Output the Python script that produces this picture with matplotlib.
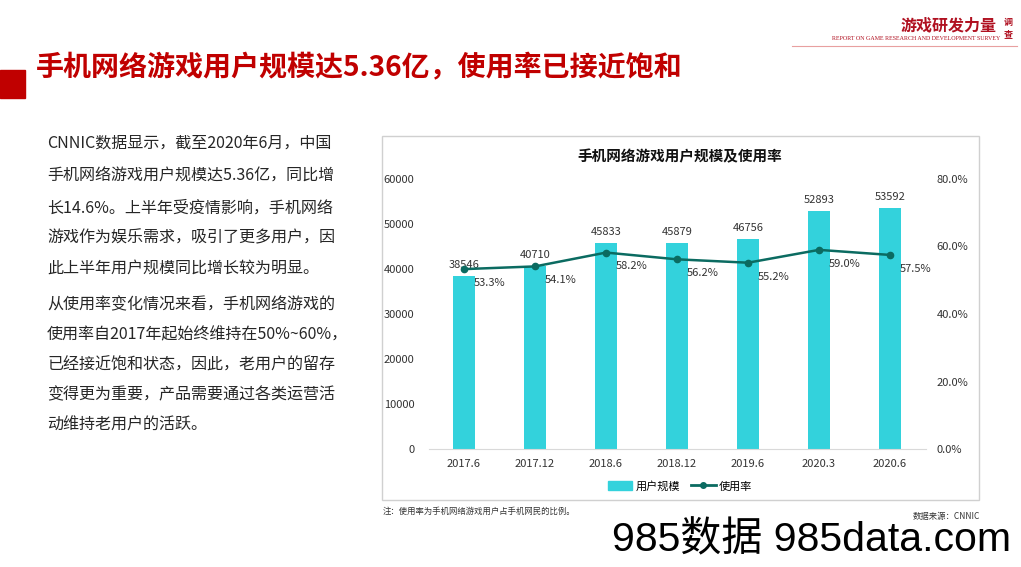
import matplotlib
matplotlib.use("Agg")
import matplotlib.pyplot as plt
from matplotlib.patches import Rectangle
from matplotlib.lines import Line2D
from matplotlib.ticker import FuncFormatter

plt.rcParams['font.family'] = ['Noto Sans CJK SC', 'DejaVu Sans']

categories = ["2017.6", "2017.12", "2018.6", "2018.12", "2019.6", "2020.3", "2020.6"]
users = [38546, 40710, 45833, 45879, 46756, 52893, 53592]
rate = [53.3, 54.1, 58.2, 56.2, 55.2, 59.0, 57.5]

page_title = "手机网络游戏用户规模达5.36亿，使用率已接近饱和"
chart_title = "手机网络游戏用户规模及使用率"
para1 = ["CNNIC数据显示，截至2020年6月，中国",
         "手机网络游戏用户规模达5.36亿，同比增",
         "长14.6%。上半年受疫情影响，手机网络",
         "游戏作为娱乐需求，吸引了更多用户，因",
         "此上半年用户规模同比增长较为明显。"]
para2 = ["从使用率变化情况来看，手机网络游戏的",
         "使用率自2017年起始终维持在50%~60%，",
         "已经接近饱和状态，因此，老用户的留存",
         "变得更为重要，产品需要通过各类运营活",
         "动维持老用户的活跃。"]
note = "注：使用率为手机网络游戏用户占手机网民的比例。"
source = "数据来源：CNNIC"

BAR = "#33D2DC"
LINE = "#0B6B61"
RED = "#C00000"

W, H = 1021, 567
fig = plt.figure(figsize=(W / 100, H / 100), dpi=100)

def fx(px):
    return px / W

def fy(py):
    return 1 - py / H

# header
fig.patches.append(Rectangle((0, fy(98)), fx(25), (98 - 70) / H, transform=fig.transFigure,
                             color=RED, zorder=1))
fig.text(fx(36), fy(68), page_title, color=RED, fontsize=20.2, fontweight='bold',
         va='center', ha='left')
fig.text(fx(997), fy(25), "游戏研发力量", color="#B01020", fontsize=11.5, fontweight='bold',
         style='italic', va='center', ha='right')
fig.text(fx(1008), fy(22), "调", color="#B01020", fontsize=6.5, fontweight='bold',
         va='center', ha='center')
fig.text(fx(1008), fy(35), "查", color="#B01020", fontsize=6.5, fontweight='bold',
         va='center', ha='center')
fig.text(fx(1000), fy(39), "REPORT ON GAME RESEARCH AND DEVELOPMENT SURVEY", color="#B01020",
         fontsize=4.3, family=['Liberation Serif'], va='center', ha='right')
fig.lines.append(Line2D([fx(792), fx(1017)], [fy(46), fy(46)], transform=fig.transFigure,
                        color="#E8A0A0", lw=0.8))

# body text
ys1 = [143, 176, 208, 238, 268]
for y, t in zip(ys1, para1):
    fig.text(fx(47), fy(y), t, fontsize=11.55, color="#262626", va='center', ha='left')
ys2 = [305, 335, 365, 395, 425]
for y, t in zip(ys2, para2):
    fig.text(fx(47), fy(y), t, fontsize=11.55, color="#262626", va='center', ha='left')

# chart frame
fig.patches.append(Rectangle((fx(382), fy(500)), fx(979 - 382), (500 - 136) / H,
                             transform=fig.transFigure, fill=False, edgecolor="#D0D0D0",
                             lw=1.0, zorder=0))
fig.text(fx(680), fy(156), chart_title, fontsize=10.5, fontweight='bold', color="#111111",
         ha='center', va='center')

ax = fig.add_axes([fx(428.5), fy(449), fx(925.5 - 428.5), (449 - 179) / H])
x = list(range(len(categories)))
ax.bar(x, users, width=0.31, color=BAR, zorder=2)
ax.set_xlim(-0.5, len(categories) - 0.5)
ax.set_ylim(0, 60000)
ax.set_yticks(range(0, 60001, 10000))
ax.set_xticks(x)
ax.set_xticklabels(categories)
for s in ['top', 'right', 'left']:
    ax.spines[s].set_visible(False)
ax.spines['bottom'].set_color("#D9D9D9")
ax.tick_params(axis='both', length=0, labelsize=8, colors="#333333")
ax.tick_params(axis='x', pad=7)
ax.tick_params(axis='y', pad=10)
for xi, v in zip(x, users):
    ax.annotate(f"{v}", (xi, v), xytext=(0, 4), textcoords='offset points',
                ha='center', va='bottom', fontsize=8, color="#333333")

ax2 = ax.twinx()
ax2.set_ylim(0, 80)
ax2.set_yticks(range(0, 81, 20))
ax2.yaxis.set_major_formatter(FuncFormatter(lambda v, p: f"{v:.1f}%"))
for s in ['top', 'right', 'left', 'bottom']:
    ax2.spines[s].set_visible(False)
ax2.tick_params(axis='y', length=0, labelsize=8, colors="#333333", pad=8)
ax2.plot(x, rate, color=LINE, lw=1.8, marker='o', markersize=4.5, zorder=3)
for xi, v in zip(x, rate):
    ax2.annotate(f"{v:.1f}%", (xi, v), xytext=(7, -10), textcoords='offset points',
                 ha='left', va='center', fontsize=8, color="#333333")

handles = [Rectangle((0, 0), 1, 1, color=BAR),
           Line2D([], [], color=LINE, lw=2, marker='o', markersize=4)]
fig.legend(handles, ["用户规模", "使用率"], loc='center', bbox_to_anchor=(fx(680), fy(486)),
           ncol=2, frameon=False, fontsize=8, handlelength=2.2, handleheight=0.8,
           columnspacing=1.0, handletextpad=0.3)

fig.text(fx(383), fy(511), note, fontsize=6, style='italic', color="#333333",
         ha='left', va='center')
fig.text(fx(980), fy(516), source, fontsize=6, style='italic', color="#333333",
         ha='right', va='center')

fig.text(fx(1011), fy(540), "985数据 985data.com", fontsize=29.5,
         family=['Liberation Sans', 'Noto Sans CJK SC'], color="#000000",
         ha='right', va='center')

fig.savefig("out.png", dpi=100)
